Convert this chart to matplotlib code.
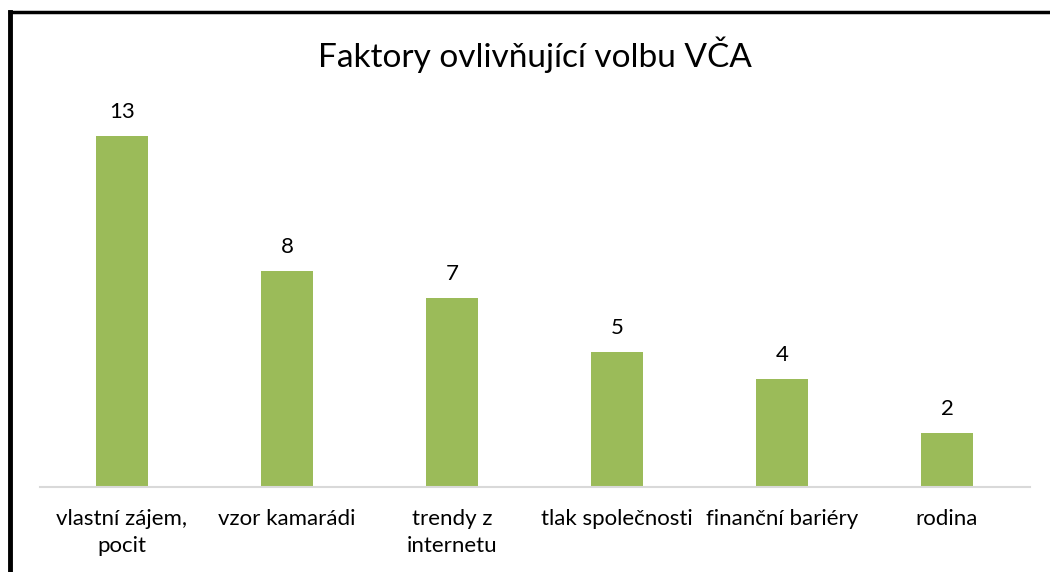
import matplotlib
matplotlib.use("Agg")
import matplotlib.pyplot as plt
from matplotlib.lines import Line2D

categories = ["vlastní zájem,\npocit", "vzor kamarádi", "trendy z\ninternetu",
              "tlak společnosti", "finanční bariéry", "rodina"]
values = [13, 8, 7, 5, 4, 2]
title = "Faktory ovlivňující volbu VČA"

plt.rcParams['font.family'] = ['Lato', 'DejaVu Sans']

W, H = 1050, 572
fig = plt.figure(figsize=(W / 100, H / 100), dpi=100)
ax = fig.add_axes([39.5 / W, 85 / H, 990 / W, 397 / H])

x = list(range(len(categories)))
bars = ax.bar(x, values, width=0.315, color="#9bbb59")
ax.set_xlim(-0.5, len(categories) - 0.5)
ax.set_ylim(0, 397 / 27)
for b, v in zip(bars, values):
    ax.annotate(str(v), (b.get_x() + b.get_width() / 2, v), xytext=(0, 10),
                textcoords="offset points", ha="center", va="bottom", fontsize=16)

ax.set_xticks(x)
ax.set_xticklabels(categories, fontsize=16, linespacing=1.4)
ax.tick_params(axis="x", length=0, pad=16)
ax.set_yticks([])
for s in ["top", "left", "right"]:
    ax.spines[s].set_visible(False)
ax.spines["bottom"].set_color("#d9d9d9")
ax.spines["bottom"].set_linewidth(1.5)

fig.text(535 / W, 1 - 55 / H, title, ha="center", va="center", fontsize=24)

# outer frame (left and top)
fig.add_artist(Line2D([9.5 / W, 9.5 / W], [0, 1 - 11.5 / H], color="black", lw=3.5,
                      transform=fig.transFigure, solid_capstyle="projecting"))
fig.add_artist(Line2D([9.5 / W, 1], [1 - 11.5 / H, 1 - 11.5 / H], color="black", lw=2.5,
                      transform=fig.transFigure))

fig.savefig("out.png", dpi=100, facecolor="white")
